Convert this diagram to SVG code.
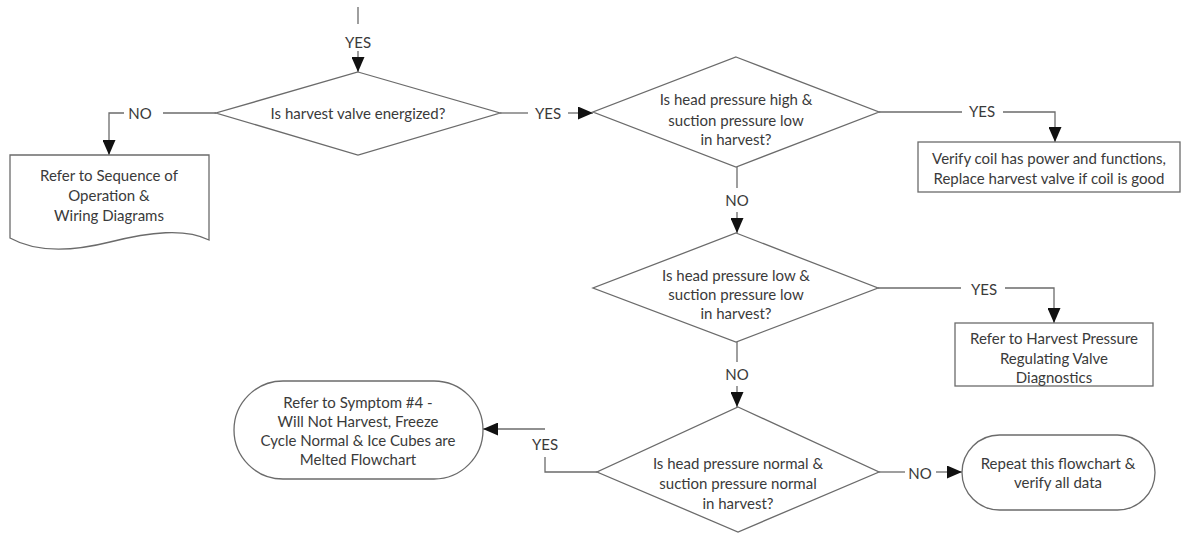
<svg xmlns="http://www.w3.org/2000/svg" width="1184" height="533" viewBox="0 0 1184 533">
<style>
  .shape { fill: #ffffff; stroke: #6b6b6b; stroke-width: 1.3; }
  .conn { fill: none; stroke: #6b6b6b; stroke-width: 1.3; }
  text { font-family: Lato, "Open Sans", "Liberation Sans", sans-serif; font-size: 15px; fill: #3a3a3a; text-anchor: middle; dominant-baseline: central; }
</style>
<defs>
  <marker id="arrow" markerUnits="userSpaceOnUse" markerWidth="15" markerHeight="13" refX="15" refY="6.5" orient="auto">
    <path d="M0,0 L15,6.5 L0,13 Z" fill="#111111"/>
  </marker>
</defs>
<rect width="1184" height="533" fill="#ffffff"/>

<g id="connectors">
  <path class="conn" d="M358,7 V24"/>
  <text x="358" y="42">YES</text>
  <path class="conn" d="M358,51 V72" marker-end="url(#arrow)"/>

  <path class="conn" d="M216,113 H163"/>
  <text x="140" y="113">NO</text>
  <path class="conn" d="M124,113 H109 V155" marker-end="url(#arrow)"/>

  <path class="conn" d="M500,113 H528"/>
  <text x="548" y="113">YES</text>
  <path class="conn" d="M568,113 H593" marker-end="url(#arrow)"/>

  <path class="conn" d="M879,112 H962"/>
  <text x="982" y="111">YES</text>
  <path class="conn" d="M1003,112 H1055 V142" marker-end="url(#arrow)"/>

  <path class="conn" d="M737,167 V188"/>
  <text x="737" y="200">NO</text>
  <path class="conn" d="M737,212 V233" marker-end="url(#arrow)"/>

  <path class="conn" d="M878,288 H961"/>
  <text x="984" y="289">YES</text>
  <path class="conn" d="M1005,288 H1054 V323" marker-end="url(#arrow)"/>

  <path class="conn" d="M737,342 V362"/>
  <text x="737" y="374">NO</text>
  <path class="conn" d="M737,386 V407" marker-end="url(#arrow)"/>

  <path class="conn" d="M597,472 H545 V457"/>
  <text x="545" y="444">YES</text>
  <path class="conn" d="M545,429 H483" marker-end="url(#arrow)"/>

  <path class="conn" d="M879,472 H905"/>
  <text x="920" y="473">NO</text>
  <path class="conn" d="M936,472 H962" marker-end="url(#arrow)"/>
</g>

<g id="d1">
  <polygon class="shape" points="358,72 500,113 358,155 216,113"/>
  <text x="358" y="113">Is harvest valve energized?</text>
</g>

<g id="doc1">
  <path class="shape" d="M10,155 H209 V240 C185,228 150,232 110,242 C70,252 35,252 10,238 Z"/>
  <text x="109" y="175">Refer to Sequence of</text>
  <text x="109" y="195">Operation &amp;</text>
  <text x="109" y="215">Wiring Diagrams</text>
</g>

<g id="d2">
  <polygon class="shape" points="736,57 879,112 736,167 593,112"/>
  <text x="736" y="99">Is head pressure high &amp;</text>
  <text x="736" y="120">suction pressure low</text>
  <text x="736" y="139">in harvest?</text>
</g>

<g id="box1">
  <rect class="shape" x="918" y="142" width="262" height="50"/>
  <text x="1049" y="158">Verify coil has power and functions,</text>
  <text x="1049" y="178">Replace harvest valve if coil is good</text>
</g>

<g id="d3">
  <polygon class="shape" points="736,233 878,288 736,342 593,288"/>
  <text x="736" y="275">Is head pressure low &amp;</text>
  <text x="736" y="294">suction pressure low</text>
  <text x="736" y="313">in harvest?</text>
</g>

<g id="box2">
  <rect class="shape" x="955" y="323" width="198" height="63"/>
  <text x="1054" y="338">Refer to Harvest Pressure</text>
  <text x="1054" y="358">Regulating Valve</text>
  <text x="1054" y="377">Diagnostics</text>
</g>

<g id="d4">
  <polygon class="shape" points="738,407 879,472 738,532 597,472"/>
  <text x="738" y="463">Is head pressure normal &amp;</text>
  <text x="738" y="483">suction pressure normal</text>
  <text x="738" y="503">in harvest?</text>
</g>

<g id="term1">
  <rect class="shape" x="234" y="381" width="249" height="98" rx="49" ry="49"/>
  <text x="358" y="402">Refer to Symptom #4 -</text>
  <text x="358" y="421">Will Not Harvest, Freeze</text>
  <text x="358" y="440">Cycle Normal &amp; Ice Cubes are</text>
  <text x="358" y="459">Melted Flowchart</text>
</g>

<g id="term2">
  <rect class="shape" x="962" y="435" width="193" height="75" rx="37.5" ry="37.5"/>
  <text x="1058" y="463">Repeat this flowchart &amp;</text>
  <text x="1058" y="482">verify all data</text>
</g>
</svg>
